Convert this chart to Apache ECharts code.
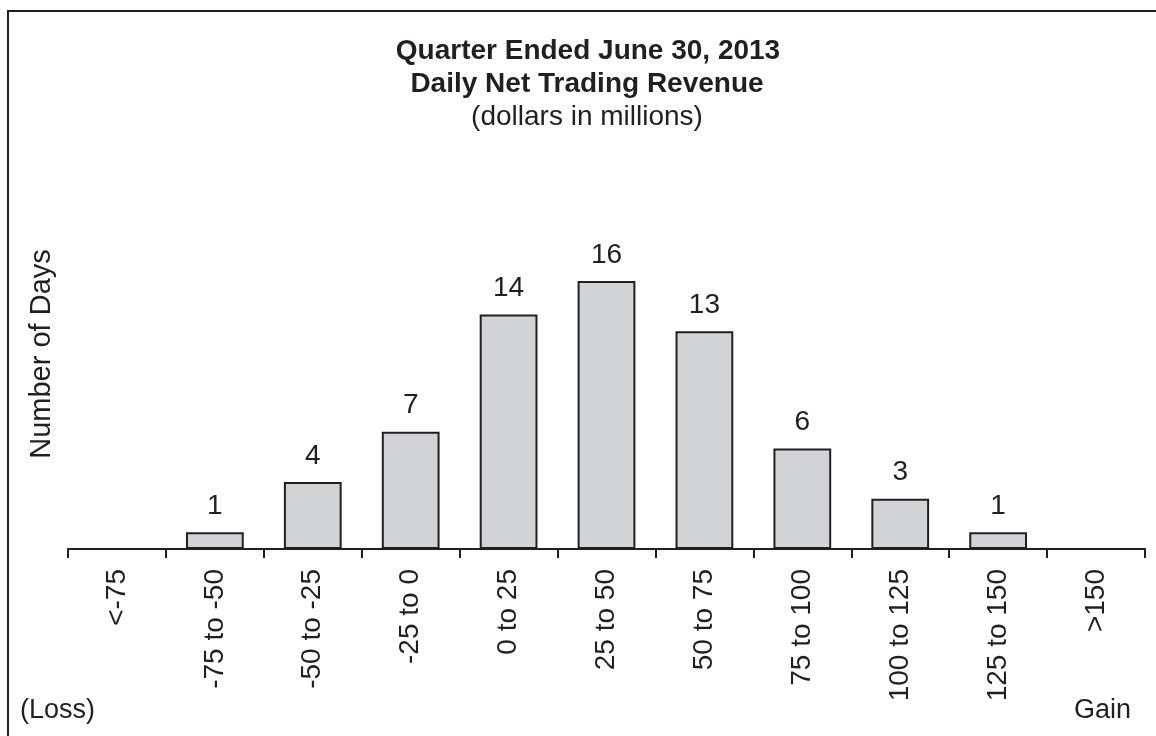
<!DOCTYPE html>
<html>
<head>
<meta charset="utf-8">
<script src="https://cdn.jsdelivr.net/npm/echarts@6/dist/echarts.min.js"></script>
<style>
html,body{margin:0;padding:0;background:#fff;}
#chart{width:1156px;height:736px;}
</style>
</head>
<body>
<div id="chart"></div>
<script>
const categories = ['<-75','-75 to -50','-50 to -25','-25 to 0','0 to 25','25 to 50','50 to 75','75 to 100','100 to 125','125 to 150','>150'];
const days = [0, 1, 4, 7, 14, 16, 13, 6, 3, 1, 0];
const titleLines = ['Quarter Ended June 30, 2013', 'Daily Net Trading Revenue', '(dollars in millions)'];
const yAxisTitle = 'Number of Days';
const lossText = '(Loss)';
const gainText = 'Gain';

const ink = '#231f20';
const font = '"Liberation Sans", Arial, sans-serif';
const chart = echarts.init(document.getElementById('chart'));
function txt(text, x, y, size, weight, align, rot) {
  return {
    type: 'text', x: x, y: y, rotation: rot || 0,
    style: { text: text, font: (weight ? weight + ' ' : '') + size + 'px ' + font, fill: ink, align: align || 'center', verticalAlign: 'middle' }
  };
}
chart.setOption({
  animation: false,
  textStyle: { fontFamily: font, color: ink },
  graphic: [
    { type: 'rect', shape: { x: 8, y: 11, width: 1200, height: 800 }, style: { fill: 'none', stroke: ink, lineWidth: 2 } },
    txt(titleLines[0], 588, 51, 28, 'bold'),
    txt(titleLines[1], 587, 84, 28, 'bold'),
    txt(titleLines[2], 587, 117, 28, ''),
    txt(yAxisTitle, 42, 354, 29, '', 'center', Math.PI / 2),
    txt(lossText, 20, 711, 27, '', 'left'),
    txt(gainText, 1131, 711, 27, '', 'right')
  ],
  grid: { left: 68, right: 11, top: 214, bottom: 187, containLabel: false },
  xAxis: {
    type: 'category',
    data: categories,
    axisLine: { lineStyle: { color: ink, width: 2 } },
    axisTick: { show: true, length: 9, lineStyle: { color: ink, width: 2 } },
    axisLabel: { rotate: 90, margin: 20, fontSize: 28, color: ink, fontFamily: font, interval: 0 }
  },
  yAxis: {
    type: 'value',
    min: 0, max: 20,
    axisLine: { show: false },
    axisTick: { show: false },
    axisLabel: { show: false },
    splitLine: { show: false }
  },
  series: [{
    type: 'bar',
    data: days.map(v => v === 0 ? { value: 0, label: { show: false }, itemStyle: { borderWidth: 0 } } : v),
    barCategoryGap: '41%',
    itemStyle: { color: '#d1d3d4', borderColor: ink, borderWidth: 2 },
    label: { show: true, position: 'top', distance: 12, fontSize: 28, color: ink, fontFamily: font }
  }]
});
</script>
</body>
</html>
